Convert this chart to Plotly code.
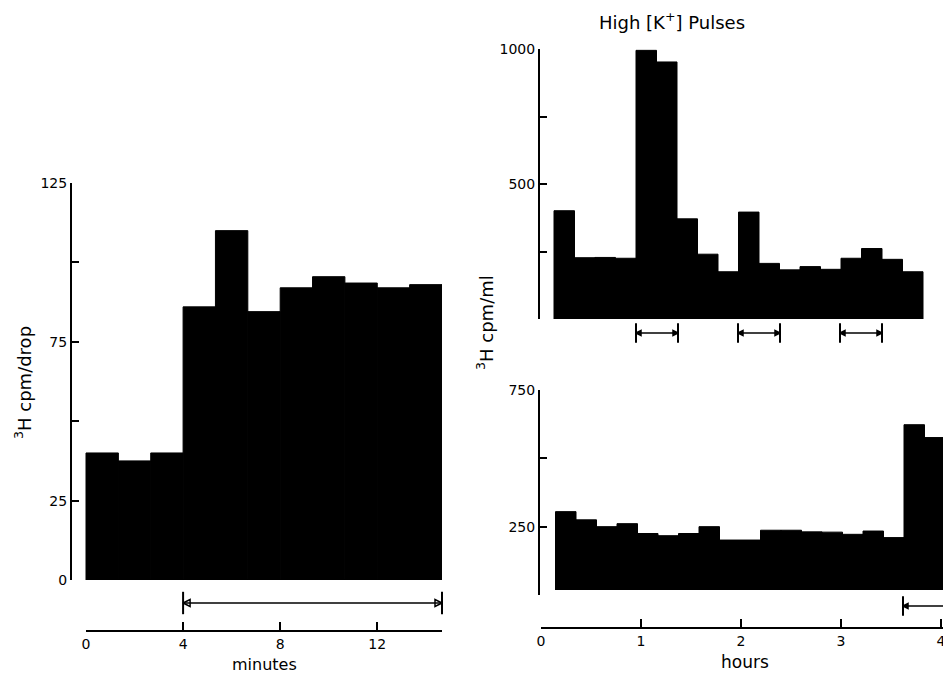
import plotly.graph_objects as go

W, H = 943, 675

# ---------------- data ----------------
# Left panel: 3H cpm/drop vs minutes (bins of 4/3 min)
left_start_min = 0.0
left_bin_min = 4.0 / 3.0
left_values = [40, 37.5, 40, 86, 110, 84.5, 92, 95.5, 93.5, 92, 93]
left_pulse = [(4.0, 14.667)]
left_ytick_vals = [0, 25, 75, 125]
left_yminor_vals = [50, 100]
left_xtick_vals = [0, 4, 8, 12]

# Right panels: 3H cpm/ml vs hours
right_bin_h = 0.205
top_start_h = 0.13
top_values = [401, 227, 228, 225, 995, 952, 371, 240, 175, 396,
              206, 182, 194, 184, 225, 261, 221, 175]
top_pulses = [(0.95, 1.37), (1.97, 2.39), (2.99, 3.41)]
top_ytick_vals = [500, 1000]
top_yminor_vals = [0, 250, 750]

bottom_start_h = 0.145
bottom_values = [305, 275, 250, 261, 225, 217, 225, 250, 201, 201,
                 237, 237, 231, 230, 222, 234, 210, 623, 576]
bottom_pulses = [(3.62, 4.05)]
bottom_ytick_vals = [250, 750]
bottom_yminor_vals = [0, 500]
hours_xtick_vals = [0, 1, 2, 3, 4]

FONT = "DejaVu Sans, Liberation Sans, sans-serif"


def fx(px):
    return px / W


def fy(py):
    return 1 - py / H


def centers(start, width, n):
    return [start + (i + 0.5) * width for i in range(n)]


fig = go.Figure()

bar_marker = dict(color="black", line=dict(color="black", width=1))
fig.add_trace(go.Bar(x=centers(left_start_min, left_bin_min, len(left_values)),
                     y=left_values, width=left_bin_min, marker=bar_marker,
                     xaxis="x", yaxis="y", showlegend=False))
fig.add_trace(go.Bar(x=centers(top_start_h, right_bin_h, len(top_values)),
                     y=top_values, width=right_bin_h, marker=bar_marker,
                     xaxis="x3", yaxis="y2", showlegend=False))
fig.add_trace(go.Bar(x=centers(bottom_start_h, right_bin_h, len(bottom_values)),
                     y=bottom_values, width=right_bin_h, marker=bar_marker,
                     xaxis="x3", yaxis="y3", showlegend=False))


def add_arrow(a, b, yv, xa, ya, heads, hsize=6, barsize=16):
    fig.add_trace(go.Scatter(x=[a, b], y=[yv, yv], mode="lines",
                             line=dict(color="black", width=1.6),
                             xaxis=xa, yaxis=ya, showlegend=False, hoverinfo="skip"))
    fig.add_trace(go.Scatter(x=[a, b], y=[yv, yv], mode="markers",
                             marker=dict(symbol="line-ns", size=barsize,
                                         line=dict(color="black", width=2)),
                             xaxis=xa, yaxis=ya, showlegend=False, hoverinfo="skip",
                             cliponaxis=False))
    fig.add_trace(go.Scatter(x=[a, b], y=[yv, yv], mode="markers",
                             marker=dict(symbol=heads, size=hsize, color="black",
                                         line=dict(color="black", width=1.5)),
                             xaxis=xa, yaxis=ya, showlegend=False, hoverinfo="skip",
                             cliponaxis=False))


for a, b in left_pulse:
    add_arrow(a, b, 0.675, "x2", "y4", ["arrow-left-open", "arrow-right-open"],
              hsize=7, barsize=16)
for a, b in top_pulses:
    add_arrow(a, b, 0.5, "x3", "y5", ["arrow-left", "arrow-right"], hsize=5, barsize=14)
for a, b in bottom_pulses:
    add_arrow(a, b, 0.568, "x5", "y6", ["arrow-left", "arrow-right"], hsize=5, barsize=14)

axis_common = dict(showgrid=False, zeroline=False, automargin=False,
                   linecolor="black", linewidth=2, tickcolor="black",
                   tickwidth=2, tickfont=dict(family=FONT, size=14, color="black"))
hidden = dict(visible=False, showgrid=False, zeroline=False, automargin=False,
              fixedrange=True)


def minor(vals, ln):
    return dict(tickvals=vals, ticks="inside", ticklen=ln, tickwidth=2,
                tickcolor="black", showgrid=False)


fig.update_layout(
    width=W, height=H,
    margin=dict(l=0, r=0, t=0, b=0),
    paper_bgcolor="white", plot_bgcolor="white",
    template="none",
    showlegend=False,
    hovermode=False,
    font=dict(family=FONT, color="black"),
    # left bars
    xaxis=dict(domain=[fx(72), fx(442)], range=[-0.577, 14.667], anchor="y", **hidden),
    yaxis=dict(domain=[fy(580), fy(183)], range=[0, 125], anchor="x",
               showline=True, ticks="inside", ticklen=7,
               tickvals=left_ytick_vals, minor=minor(left_yminor_vals, 7),
               **axis_common),
    # left minutes axis
    xaxis2=dict(domain=[fx(86), fx(442)], range=[0, 14.667], anchor="y4",
                showline=True, ticks="inside", ticklen=8,
                tickvals=left_xtick_vals, **axis_common),
    yaxis4=dict(domain=[fy(630), fy(590)], range=[0, 1], anchor="x2", **hidden),
    # right panels
    xaxis3=dict(domain=[fx(540), 1], range=[-0.01, 4.02], anchor="y2", **hidden),
    yaxis2=dict(domain=[fy(319), fy(49)], range=[0, 1000], anchor="x3",
                showline=True, ticks="inside", ticklen=7,
                tickvals=top_ytick_vals, minor=minor(top_yminor_vals, 7),
                **axis_common),
    yaxis3=dict(domain=[fy(595), fy(390)], range=[0, 750], anchor="x3",
                showline=True, ticks="inside", ticklen=7,
                tickvals=bottom_ytick_vals, minor=minor(bottom_yminor_vals, 7),
                **axis_common),
    yaxis5=dict(domain=[fy(345), fy(321)], range=[0, 1], anchor="x3", **hidden),
    xaxis5=dict(domain=[fx(541), 1], range=[0, 4.02], anchor="y6",
                showline=True, ticks="inside", ticklen=8,
                ticklabeloverflow="allow",
                tickvals=hours_xtick_vals, **axis_common),
    yaxis6=dict(domain=[fy(627), fy(590)], range=[0, 1], anchor="x5", **hidden),
)

fig.add_annotation(text="<sup>3</sup>H cpm/drop", x=fx(23), y=fy(383),
                   xref="paper", yref="paper", showarrow=False, textangle=-90,
                   font=dict(family=FONT, size=18, color="black"),
                   xanchor="center", yanchor="middle")
fig.add_annotation(text="<sup>3</sup>H cpm/ml", x=fx(485), y=fy(323),
                   xref="paper", yref="paper", showarrow=False, textangle=-90,
                   font=dict(family=FONT, size=18, color="black"),
                   xanchor="center", yanchor="middle")
fig.add_annotation(text="minutes", x=fx(264), y=fy(664),
                   xref="paper", yref="paper", showarrow=False,
                   font=dict(family=FONT, size=16, color="black"),
                   xanchor="center", yanchor="middle")
fig.add_annotation(text="hours", x=fx(745), y=fy(662),
                   xref="paper", yref="paper", showarrow=False,
                   font=dict(family=FONT, size=17, color="black"),
                   xanchor="center", yanchor="middle")
fig.add_annotation(text="High [K<sup>+</sup>] Pulses", x=fx(672), y=fy(21),
                   xref="paper", yref="paper", showarrow=False,
                   font=dict(family=FONT, size=18, color="black"),
                   xanchor="center", yanchor="middle")

fig.write_html("out.html",
               config={"displayModeBar": False, "staticPlot": True},
               post_script="document.body.style.margin='0';"
                           "document.body.style.overflow='hidden';")
